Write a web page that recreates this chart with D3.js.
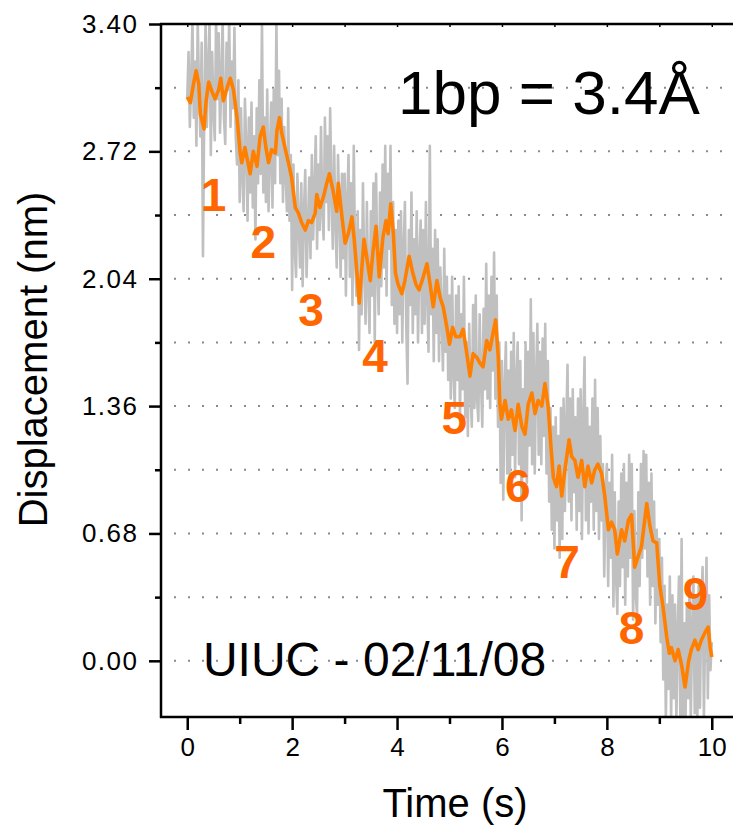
<!DOCTYPE html>
<html>
<head>
<meta charset="utf-8">
<script src="https://cdn.jsdelivr.net/npm/d3@7"></script>
<style>
  html, body { margin: 0; padding: 0; background: #fff; }
  svg { display: block; font-family: "Liberation Sans", Arial, Helvetica, sans-serif; }
</style>
</head>
<body>
<svg id="chart" width="733" height="826"></svg>
<script>
// ---------- data ----------
const xTicks = [0, 2, 4, 6, 8, 10];
const xMinorTicks = [1, 3, 5, 7, 9];
const yTicks = [0.00, 0.68, 1.36, 2.04, 2.72, 3.40];
const yMinorTicks = [0.34, 1.02, 1.70, 2.38, 3.06];
const yTickLabels = ["0.00", "0.68", "1.36", "2.04", "2.72", "3.40"];
const gridValues = [0.00, 0.34, 0.68, 1.02, 1.36, 1.70, 2.04, 2.38, 2.72, 3.06];

// smoothed trace (orange): [time s, displacement nm]
const smoothTime = [
  0.00,0.06,0.12,0.17,0.22,0.25,0.32,0.36,0.41,0.47,0.53,0.60,0.64,0.69,0.76,0.82,0.88,0.95,
  1.01,1.04,1.10,1.15,1.20,1.26,1.33,1.39,1.45,1.50,1.55,1.61,1.68,1.71,1.76,1.80,1.87,1.93,1.99,
  2.06,2.12,2.18,2.25,2.31,2.37,2.44,2.47,2.53,2.60,2.66,2.71,2.78,2.85,2.88,2.95,
  3.01,3.07,3.14,3.18,3.23,3.28,3.33,3.37,3.42,3.49,3.54,3.60,3.66,3.73,3.79,3.83,3.88,3.93,3.97,
  4.02,4.09,4.15,4.23,4.30,4.36,4.42,4.50,4.57,4.63,4.69,4.76,4.82,4.88,4.95,
  5.00,5.06,5.12,5.20,5.26,5.33,5.39,5.45,5.52,5.58,5.64,5.71,5.77,5.83,5.88,5.93,5.96,5.99,
  6.06,6.12,6.18,6.25,6.31,6.38,6.44,6.50,6.57,6.63,6.69,6.76,6.82,6.88,6.93,6.98,
  7.04,7.09,7.14,7.20,7.28,7.33,7.39,7.45,7.52,7.58,7.64,7.71,7.77,7.83,7.90,7.96,
  8.03,8.09,8.15,8.20,8.28,8.34,8.41,8.47,8.53,8.60,8.66,8.76,8.82,8.88,8.95,
  9.01,9.07,9.14,9.19,9.23,9.30,9.36,9.43,9.49,9.56,9.61,9.68,9.74,9.80,9.87,9.93,9.97,10.00
];
const smoothValue = [
  3.01,2.98,3.08,3.15,3.08,2.92,2.84,2.99,3.09,3.04,3.00,3.05,3.11,2.99,3.06,3.11,3.05,2.90,
  2.71,2.66,2.74,2.67,2.60,2.72,2.64,2.80,2.85,2.74,2.66,2.73,2.71,2.83,2.90,2.82,2.73,2.66,2.58,
  2.42,2.39,2.34,2.30,2.35,2.34,2.39,2.49,2.42,2.48,2.55,2.60,2.51,2.40,2.55,2.37,
  2.23,2.28,2.37,2.26,2.09,1.91,2.10,2.25,2.16,2.03,2.18,2.32,2.05,2.26,2.35,2.28,2.44,2.28,2.07,
  2.01,1.96,2.03,2.16,2.07,2.01,1.98,2.05,2.12,2.01,1.89,2.03,1.94,1.89,1.78,
  1.69,1.78,1.73,1.73,1.77,1.64,1.52,1.64,1.62,1.59,1.57,1.71,1.66,1.75,1.82,1.62,1.37,1.29,
  1.39,1.29,1.34,1.23,1.37,1.25,1.21,1.37,1.43,1.32,1.39,1.36,1.48,1.36,1.16,0.98,
  0.93,1.04,0.88,1.02,1.18,1.09,1.07,0.98,1.07,0.93,1.04,0.95,1.02,1.05,1.00,0.88,
  0.70,0.74,0.70,0.57,0.70,0.64,0.75,0.78,0.50,0.56,0.61,0.84,0.72,0.64,0.63,
  0.40,0.29,0.13,0.04,0.07,0.00,0.06,-0.03,-0.14,0.00,0.06,0.11,0.06,0.11,0.15,0.18,0.07,0.02
];

// raw trace (gray), sampled every 0.025 s from 0 to 10 s
const rawTimeStep = 0.025;
const rawValue = [
  // 0 s
  3.00,3.25,2.85,3.10,3.42,2.90,3.20,2.75,3.42,3.05,
  2.80,3.30,2.16,2.95,3.42,2.85,3.15,3.42,2.70,3.25,
  2.95,2.78,3.42,3.00,3.35,2.82,3.10,3.42,2.90,2.76,
  3.30,3.05,3.42,2.85,3.20,2.95,3.38,2.80,2.65,3.10,
  // 1 s
  2.45,2.95,2.60,2.40,3.00,2.75,2.35,2.90,2.50,2.98,
  2.42,2.80,2.25,2.95,2.55,3.10,2.60,3.42,2.50,2.90,
  2.45,3.05,2.40,2.70,2.98,2.42,3.05,2.55,3.42,2.70,
  3.15,2.55,3.00,2.45,2.85,2.60,2.40,2.95,2.35,2.70,
  // 2 s
  1.98,2.65,2.20,2.05,2.60,2.35,2.10,2.55,2.00,2.40,
  2.62,2.05,2.30,2.58,2.15,2.70,2.25,2.50,2.80,2.20,
  2.65,2.30,2.85,2.40,2.25,2.90,2.45,2.80,2.30,2.95,
  2.50,2.20,2.75,2.35,2.10,2.70,2.40,2.05,2.60,2.15,
  // 3 s
  2.60,1.95,2.45,2.70,2.05,2.55,1.90,2.75,2.15,1.95,
  2.40,1.66,2.30,1.85,2.55,2.10,1.80,2.45,2.00,1.75,
  2.40,1.95,2.55,1.70,2.60,2.10,1.85,2.50,2.00,2.65,
  2.10,2.75,1.95,2.60,2.20,2.75,1.90,2.45,1.80,2.30,
  // 4 s
  1.75,2.35,1.85,2.40,1.70,2.20,2.45,1.80,1.48,2.30,
  1.90,2.50,1.75,2.25,1.85,2.40,1.70,2.15,2.35,1.75,
  2.30,1.80,2.45,1.95,1.65,2.75,1.85,2.20,1.60,2.30,
  1.75,2.25,1.60,2.10,1.85,1.55,2.20,1.65,2.05,1.50,
  // 5 s
  1.95,1.40,2.05,1.55,1.35,1.95,1.50,2.00,1.30,1.85,
  1.45,2.05,1.30,1.70,1.20,1.80,1.45,1.25,1.90,1.35,
  1.95,1.40,1.28,1.85,1.50,1.25,1.88,1.45,2.12,1.40,
  1.95,1.35,2.05,1.55,2.18,1.40,1.95,1.25,1.70,0.95,
  // 6 s
  1.60,0.86,1.45,1.70,1.00,1.55,0.95,1.65,1.10,1.75,
  0.98,1.50,1.70,1.05,1.60,0.75,1.45,1.00,1.70,0.95,
  1.65,1.15,1.93,1.05,1.75,1.00,1.50,1.80,1.10,1.65,
  1.05,1.72,1.20,1.80,1.00,1.60,0.85,1.35,0.70,1.25,
  // 7 s
  0.60,1.30,0.75,1.20,0.55,1.35,0.65,1.40,0.80,1.25,
  1.58,0.85,1.40,0.75,1.45,0.90,1.30,0.70,1.40,0.80,
  1.45,0.65,1.30,1.62,0.75,1.35,0.68,1.25,0.85,1.40,
  0.70,1.50,0.80,1.35,0.65,1.20,0.75,1.05,0.45,0.90,
  // 8 s
  1.05,0.40,0.95,0.55,1.10,0.29,0.90,0.45,0.25,0.85,
  0.40,1.00,0.50,1.05,0.30,0.95,0.45,1.10,0.55,1.05,
  0.22,0.80,0.35,0.25,0.90,0.40,1.05,0.55,1.12,0.60,
  1.10,0.45,0.95,0.30,1.00,0.40,0.85,0.20,0.70,0.30,
  // 9 s
  0.65,0.10,0.55,-0.10,0.40,-0.32,0.30,-0.15,0.45,-0.32,
  0.35,-0.20,0.30,-0.32,0.15,0.45,-0.30,0.65,-0.35,0.20,
  -0.32,0.30,-0.20,0.40,-0.32,0.15,0.45,-0.28,0.35,-0.30,
  0.40,-0.25,0.30,0.50,-0.30,0.20,0.55,-0.20,0.35,-0.05,
  // 10 s
  0.10
];

// step annotations (anchor in data units: time, displacement)
const stepLabels = ["1", "2", "3", "4", "5", "6", "7", "8", "9"];
const stepTime = [0.50, 1.45, 2.36, 3.58, 5.09, 6.30, 7.24, 8.47, 9.69];
const stepValue = [2.40, 2.15, 1.79, 1.54, 1.21, 0.85, 0.44, 0.09, 0.27];

const titleText = "1bp = 3.4Å";
const stampText = "UIUC - 02/11/08";
const xTitle = "Time (s)";
const yTitle = "Displacement (nm)";

// ---------- drawing ----------
const svg = d3.select("#chart");
const mLeft = 161, mTop = 24, mRight = 738, mBottom = 717;

const x = d3.scaleLinear().domain([-0.5, 10.5]).range([mLeft, mRight]);
const y = d3.scaleLinear().domain([-0.30, 3.40]).range([mBottom, mTop]);

svg.append("defs").append("clipPath").attr("id", "plotClip")
  .append("rect").attr("x", mLeft).attr("y", mTop)
  .attr("width", mRight - mLeft).attr("height", mBottom - mTop);

// dotted horizontal grid
svg.append("g").selectAll("line").data(gridValues).join("line")
  .attr("x1", mLeft + 13).attr("x2", mRight)
  .attr("y1", d => y(d)).attr("y2", d => y(d))
  .attr("stroke", "#8a8a8a").attr("stroke-width", 2)
  .attr("stroke-dasharray", "2,12");

const plot = svg.append("g").attr("clip-path", "url(#plotClip)");

const rawData = rawValue.map((v, i) => [i * rawTimeStep, v]);
const smoothData = smoothTime.map((t, i) => [t, smoothValue[i]]);

const line = d3.line().x(d => x(d[0])).y(d => y(d[1]));

plot.append("path").datum(rawData)
  .attr("d", line).attr("fill", "none")
  .attr("stroke", "#c0c0c0").attr("stroke-width", 2.6)
  .attr("stroke-linejoin", "round");

plot.append("path").datum(smoothData)
  .attr("d", line).attr("fill", "none")
  .attr("stroke", "#ff8000").attr("stroke-width", 3.6)
  .attr("stroke-linejoin", "round");

// step numbers
svg.append("g").selectAll("text").data(stepLabels).join("text")
  .attr("x", (d, i) => x(stepTime[i])).attr("y", (d, i) => y(stepValue[i]))
  .attr("text-anchor", "middle")
  .attr("font-size", 46).attr("font-weight", "bold")
  .attr("fill", "#ff6600")
  .text(d => d);

// annotations
svg.append("text").attr("x", x(4.02)).attr("y", y(2.92))
  .attr("font-size", 62).attr("fill", "#000").text(titleText);
svg.append("text").attr("x", x(0.30)).attr("y", y(-0.08))
  .attr("font-size", 48).attr("fill", "#000").text(stampText);

// axes frame
const axisColor = "#000";
svg.append("line").attr("x1", mLeft).attr("x2", mLeft).attr("y1", mTop - 1).attr("y2", mBottom + 1)
  .attr("stroke", axisColor).attr("stroke-width", 2.5);
svg.append("line").attr("x1", mLeft - 1).attr("x2", mRight).attr("y1", mTop).attr("y2", mTop)
  .attr("stroke", axisColor).attr("stroke-width", 2.5);
svg.append("line").attr("x1", mLeft - 1).attr("x2", mRight).attr("y1", mBottom).attr("y2", mBottom)
  .attr("stroke", axisColor).attr("stroke-width", 2.5);

// y axis
const yAxis = d3.axisLeft(y).tickValues(yTicks).tickSize(12).tickPadding(10)
  .tickFormat((d, i) => yTickLabels[i]);
const gy = svg.append("g").attr("transform", `translate(${mLeft},0)`).call(yAxis);
gy.attr("font-size", null).attr("font-family", null);
gy.select(".domain").remove();
gy.selectAll(".tick line").attr("stroke", axisColor).attr("stroke-width", 2.5);
gy.selectAll(".tick text").attr("font-size", 26).attr("fill", "#000")
  .attr("letter-spacing", "1.5px").attr("dx", "-0.5px");
const gyMinor = svg.append("g").attr("transform", `translate(${mLeft},0)`)
  .call(d3.axisLeft(y).tickValues(yMinorTicks).tickSize(6).tickFormat(""));
gyMinor.select(".domain").remove();
gyMinor.selectAll(".tick line").attr("stroke", axisColor).attr("stroke-width", 2.5);

// x axis
const xAxis = d3.axisBottom(x).tickValues(xTicks).tickSize(13).tickPadding(8).tickFormat(d3.format("d"));
const gx = svg.append("g").attr("transform", `translate(0,${mBottom})`).call(xAxis);
gx.attr("font-size", null).attr("font-family", null);
gx.select(".domain").remove();
gx.selectAll(".tick line").attr("stroke", axisColor).attr("stroke-width", 2.5);
gx.selectAll(".tick text").attr("font-size", 26).attr("fill", "#000");
const gxMinor = svg.append("g").attr("transform", `translate(0,${mBottom})`)
  .call(d3.axisBottom(x).tickValues(xMinorTicks).tickSize(7).tickFormat(""));
gxMinor.select(".domain").remove();
gxMinor.selectAll(".tick line").attr("stroke", axisColor).attr("stroke-width", 2.5);

// top axis tiny inward ticks
const gTop = svg.append("g").attr("transform", `translate(0,${mTop})`)
  .call(d3.axisBottom(x).tickValues(xTicks.concat(xMinorTicks)).tickSize(3).tickFormat(""));
gTop.select(".domain").remove();
gTop.selectAll(".tick line").attr("stroke", axisColor).attr("stroke-width", 1.5);

// axis titles
svg.append("text").attr("x", 455).attr("y", 817)
  .attr("text-anchor", "middle").attr("font-size", 40).attr("fill", "#000").text(xTitle);
svg.append("text").attr("transform", `translate(47,${(mTop + mBottom) / 2 - 11}) rotate(-90)`)
  .attr("text-anchor", "middle").attr("font-size", 40).attr("fill", "#000").text(yTitle);
</script>
</body>
</html>
